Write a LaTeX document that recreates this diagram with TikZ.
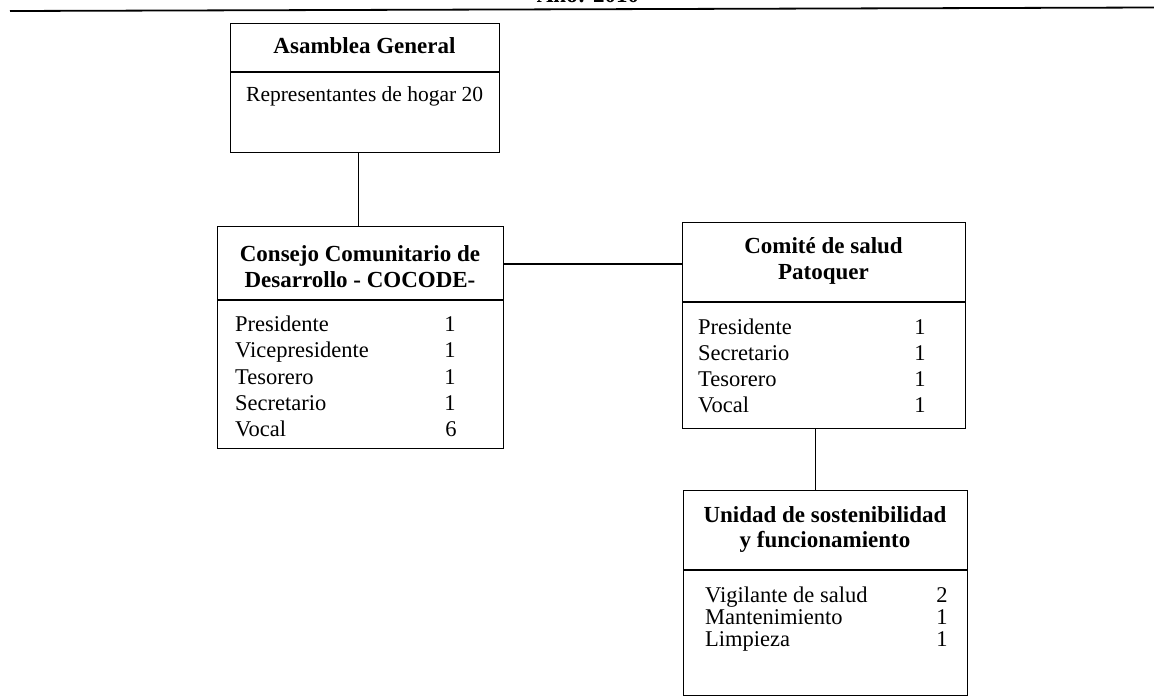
\documentclass[tikz,border=0pt]{standalone}
\usepackage{fontspec}
\setmainfont{Liberation Serif}
\begin{document}
\begin{tikzpicture}[x=1pt,y=-1pt,
  box/.style={draw, line width=1.4pt, inner sep=0pt, anchor=north west},
  link/.style={draw, line width=1.4pt},
  rule/.style={draw, line width=1.4pt},
  ttl/.style={font=\fontsize{23}{26}\selectfont\bfseries, anchor=base, inner sep=0pt},
  itm/.style={font=\fontsize{22.5}{26}\selectfont, anchor=base west, inner sep=0pt},
  num/.style={font=\fontsize{22.5}{26}\selectfont, anchor=base, inner sep=0pt}]
\useasboundingbox (0,0) rectangle (1154,697);

% page header (cut off at the top)
\node[ttl] (year) at (588,2.5) {Año: 2010};
\draw[line width=1.8pt] (10,11) -- (1154,7.5);

% boxes
\node[box, minimum width=269pt, minimum height=129pt] (asm) at (230,23) {};
\node[box, minimum width=286pt, minimum height=222pt] (coc) at (217,226) {};
\node[box, minimum width=283pt, minimum height=206pt] (com) at (682,222) {};
\node[box, minimum width=284pt, minimum height=205pt] (uni) at (683,490) {};

% dividers
\draw[rule] (asm.north west) ++(0,49) -- ++(269,0);
\draw[rule] (coc.north west) ++(0,74) -- ++(286,0);
\draw[rule] (com.north west) ++(0,80) -- ++(283,0);
\draw[rule] (uni.north west) ++(0,80) -- ++(284,0);

% connectors
\draw[link] ([xshift=-2pt]coc.north |- asm.south) -- ([xshift=-2pt]coc.north);
\draw[link] (coc.north east) ++(0,38) coordinate (h1) -- (h1 -| com.west);
\draw[link] ([xshift=-9pt]com.south) -- ([xshift=-9pt]com.south |- uni.north);

% Asamblea General
\node[ttl] (asmT) at (364.5,53) {Asamblea General};
\node[itm, font=\fontsize{21.5}{26}\selectfont] (asmA) at (246,101) {Representantes de hogar 20};

% COCODE
\node[ttl] (cocT1) at (360,261) {Consejo Comunitario de};
\node[ttl] (cocT2) at (360,287) {Desarrollo - COCODE-};
\node[itm] (c1) at (235,331.5) {Presidente};
\node[itm] (c2) at (235,357.8) {Vicepresidente};
\node[itm] (c3) at (235,384) {Tesorero};
\node[itm] (c4) at (235,410.3) {Secretario};
\node[itm] (c5) at (235,436.5) {Vocal};
\node[num] (cn1) at (450,331.5) {1};
\node[num] (cn2) at (450,357.8) {1};
\node[num] (cn3) at (450,384) {1};
\node[num] (cn4) at (450,410.3) {1};
\node[num] (cn5) at (451,436.5) {6};

% Comite de salud
\node[ttl] (comT1) at (823.5,253) {Comité de salud};
\node[ttl] (comT2) at (823.5,279) {Patoquer};
\node[itm] (m1) at (698,334) {Presidente};
\node[itm] (m2) at (698,360) {Secretario};
\node[itm] (m3) at (698,386) {Tesorero};
\node[itm] (m4) at (698,412) {Vocal};
\node[num] (mn1) at (920,334) {1};
\node[num] (mn2) at (920,360) {1};
\node[num] (mn3) at (920,386) {1};
\node[num] (mn4) at (920,412) {1};

% Unidad
\node[ttl] (uniT1) at (825,522) {Unidad de sostenibilidad};
\node[ttl] (uniT2) at (825,547) {y funcionamiento};
\node[itm] (u1) at (705,602) {Vigilante de salud};
\node[itm] (u2) at (705,624) {Mantenimiento};
\node[itm] (u3) at (705,646) {Limpieza};
\node[num] (un1) at (942,602) {2};
\node[num] (un2) at (942,624) {1};
\node[num] (un3) at (942,646) {1};
\end{tikzpicture}
\end{document}
